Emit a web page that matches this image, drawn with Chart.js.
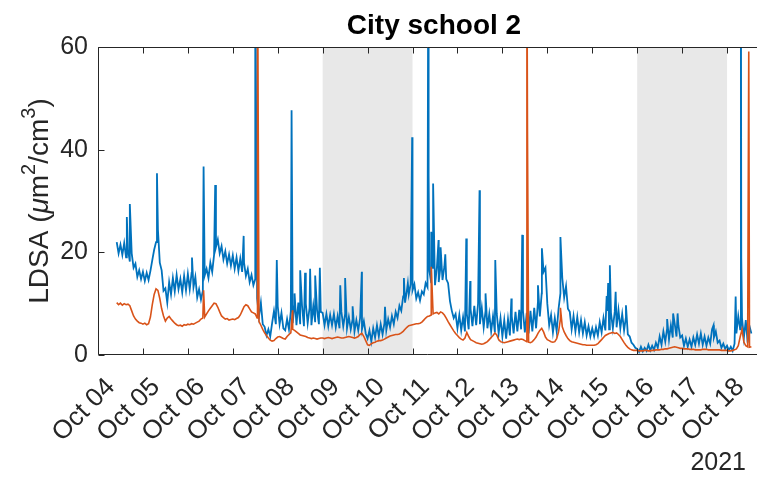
<!DOCTYPE html>
<html>
<head>
<meta charset="utf-8">
<script src="https://cdn.jsdelivr.net/npm/chart.js@4/dist/chart.umd.min.js"></script>
<style>
  html, body { margin: 0; padding: 0; background: #fff; }
  canvas { display: block; }
</style>
</head>
<body>
<canvas id="chart" width="757" height="477"></canvas>
<script>
// hours are counted from Oct 04 00:00
const dayLabels = ['Oct 04', 'Oct 05', 'Oct 06', 'Oct 07', 'Oct 08', 'Oct 09', 'Oct 10', 'Oct 11',
    'Oct 12', 'Oct 13', 'Oct 14', 'Oct 15', 'Oct 16', 'Oct 17', 'Oct 18'];
const yTicks = [0, 20, 40, 60];
const weekendHours = [[120, 168], [288, 336]];
const firstHour = 10;   // first sample, Oct 04 10:00
const lastHour = 352;   // right end of the axis

// hourly LDSA, series 1 (blue)
const blueHourly = [
    22.0, 19.8, 21.5, 19.5, 21.8, 19.0, 20.5, 18.2, 19.8, 17.0, 17.8, 15.2, 16.5, 14.8,
    16.2, 14.4, 16.0, 14.6, 16.4, 18.5, 20.5, 22.0, 24.5, 18.0, 16.5, 12.5, 13.0, 10.2, 14.2, 11.8, 15.0, 12.4, 15.6, 12.8, 14.8, 12.2, 15.4, 12.6,
    15.8, 12.8, 16.0, 13.2, 15.2, 11.2, 12.8, 10.8, 12.5, 15.5, 16.8, 15.0, 18.0, 16.2, 19.5, 21.0, 22.5, 19.8, 21.2, 18.6, 20.2, 17.8, 19.6, 17.4,
    19.4, 16.8, 19.0, 16.4, 18.8, 16.2, 18.0, 15.4, 16.8, 14.2, 15.6, 13.6, 14.8, 11.0, 7.5, 10.2, 6.0, 5.5, 3.8, 5.0, 3.6, 6.2, 8.6, 6.0,
    9.5, 6.0, 8.2, 5.2, 4.8, 7.0, 5.0, 8.5, 6.2, 9.8, 5.8, 10.2, 6.0, 9.5, 5.6, 10.0, 6.2, 9.2, 5.8, 9.6, 6.4, 8.8, 6.0, 8.4,
    8.2, 5.8, 8.0, 5.6, 7.8, 5.8, 8.0, 5.4, 7.6, 5.2, 8.4, 5.6, 8.0, 5.2, 7.4, 5.0, 7.0, 4.6, 6.8, 4.8, 7.2, 5.0, 6.6, 4.2,
    3.2, 4.8, 2.6, 5.2, 3.4, 5.8, 3.6, 6.0, 4.0, 6.2, 4.8, 7.0, 5.4, 7.6, 6.0, 8.4, 7.2, 9.6, 8.6, 11.4, 10.2, 12.6, 11.8, 13.8,
    12.6, 13.8, 11.0, 12.2, 10.6, 12.4, 11.8, 14.0, 13.2, 16.4, 14.0, 16.8, 13.6, 17.0, 14.2, 17.4, 14.6, 17.2, 14.8, 14.0, 10.5, 8.6, 7.2, 8.0,
    5.2, 7.8, 4.8, 7.4, 4.6, 8.0, 5.0, 9.0, 5.6, 9.6, 5.8, 10.0, 6.0, 9.2, 5.4, 8.6, 5.2, 8.0, 4.6, 7.6, 4.4, 8.0, 4.2, 7.2,
    3.6, 6.8, 3.2, 7.0, 3.8, 7.6, 4.2, 8.4, 4.6, 8.8, 5.0, 8.6, 4.4, 8.2, 4.2, 8.6, 4.6, 9.2, 5.2, 10.4, 7.5, 12.0, 16.2, 17.0,
    10.0, 5.8, 7.8, 4.4, 7.2, 4.6, 9.0, 12.0, 15.0, 11.2, 13.4, 9.0, 8.4, 5.0, 7.6, 4.6, 7.4, 4.4, 6.8, 4.2, 6.4, 3.8, 5.6, 3.6,
    5.2, 3.6, 5.4, 3.8, 6.4, 4.4, 7.2, 4.8, 8.6, 5.0, 8.2, 5.2, 8.4, 5.4, 8.8, 5.2, 8.0, 4.8, 7.4, 4.0, 3.6, 2.4, 2.0, 1.4,
    1.2, 0.6, 1.6, 0.7, 1.4, 0.8, 2.0, 0.9, 1.8, 1.0, 2.4, 1.4, 3.6, 2.0, 4.6, 2.6, 5.2, 3.0, 5.8, 3.4, 6.2, 3.6, 5.8, 3.4,
    3.8, 1.8, 3.2, 1.6, 3.0, 1.6, 3.4, 2.0, 4.0, 2.2, 4.2, 2.0, 3.6, 1.8, 3.4, 2.2, 5.0, 3.4, 4.6, 2.4, 2.8, 1.4, 2.2, 1.2,
    1.8, 0.9, 1.6, 0.8, 2.2, 4.2, 7.6, 5.0, 7.2, 3.4, 6.8, 2.4, 5.6, 4.2
];

// hourly LDSA, series 2 (orange)
const orangeHourly = [
    10.2, 9.8, 10.1, 9.7, 10.0, 9.8, 9.9, 9.6, 8.6, 7.6, 7.0, 6.6, 6.3, 6.2,
    6.0, 6.2, 5.9, 6.1, 7.4, 9.8, 11.8, 12.9, 12.6, 11.0, 9.0, 7.6, 6.6, 7.2, 7.5, 7.0, 6.6, 6.2, 5.9, 5.7, 5.8, 5.6, 5.9, 5.8,
    6.0, 5.9, 6.1, 6.0, 6.2, 6.4, 6.6, 7.0, 7.2, 7.4, 8.0, 8.6, 9.1, 9.6, 10.1, 10.0, 9.3, 8.4, 7.6, 7.3, 7.0, 7.1, 6.8, 6.9,
    7.0, 6.9, 7.1, 7.3, 7.8, 8.6, 9.4, 9.8, 9.6, 9.0, 8.4, 8.2, 8.0, 7.2, 6.5, 5.8, 5.0, 4.3, 3.8, 3.3, 2.9, 2.7, 2.8, 3.2,
    3.5, 3.6, 3.4, 3.2, 3.1, 3.6, 4.0, 4.3, 5.0, 4.8, 4.5, 4.2, 3.9, 3.8, 3.7, 3.6, 3.4, 3.3, 3.2, 3.3, 3.2, 3.1, 3.2, 3.3,
    3.3, 3.2, 3.3, 3.4, 3.3, 3.2, 3.3, 3.4, 3.5, 3.4, 3.3, 3.3, 3.4, 3.5, 3.6, 3.5, 3.4, 3.3, 3.4, 3.6, 4.0, 4.2, 3.6, 2.8,
    2.0, 1.9, 2.2, 2.4, 2.5, 2.7, 2.8, 2.8, 2.9, 3.1, 3.3, 3.5, 3.7, 3.8, 3.9, 4.0, 4.0, 4.1, 4.3, 4.6, 5.0, 5.4, 5.7, 5.8,
    5.9, 6.0, 6.1, 6.1, 6.2, 6.4, 6.8, 7.2, 7.5, 7.6, 7.8, 8.0, 8.2, 8.3, 8.0, 8.4, 8.2, 7.8, 7.2, 6.5, 5.9, 5.3, 4.7, 4.2,
    3.8, 3.4, 3.1, 2.9, 3.3, 4.4, 3.6, 3.0, 2.8, 2.6, 2.4, 2.3, 2.2, 2.1, 2.2, 2.4, 2.6, 3.0, 3.4, 3.8, 4.3, 3.9, 3.0, 2.6,
    2.5, 2.4, 2.5, 2.6, 2.7, 2.8, 2.9, 3.0, 3.1, 3.0, 3.1, 3.0, 2.8, 2.6, 2.5, 2.4, 2.6, 3.0, 3.5, 4.2, 4.8, 5.2, 4.5, 3.5,
    3.0, 2.8, 2.6, 2.5, 2.6, 3.2, 4.5, 7.0, 5.5, 4.5, 3.8, 3.2, 2.8, 2.6, 2.5, 2.4, 2.3, 2.2, 2.1, 2.0, 2.0, 1.9, 1.9, 1.9,
    1.9, 1.9, 2.0, 2.2, 2.6, 3.0, 3.4, 3.8, 4.0, 4.2, 4.3, 4.4, 4.2, 4.3, 4.0, 3.6, 3.0, 2.4, 1.9, 1.5, 1.2, 1.0, 0.9, 0.9,
    0.9, 0.8, 0.8, 0.8, 0.9, 0.9, 0.8, 0.8, 0.9, 0.9, 1.0, 1.0, 1.0, 1.1, 1.1, 1.2, 1.2, 1.3, 1.4, 1.5, 1.6, 1.5, 1.4, 1.3,
    1.3, 1.2, 1.2, 1.2, 1.1, 1.1, 1.1, 1.0, 1.0, 1.0, 1.0, 1.1, 1.1, 1.1, 1.0, 1.0, 1.0, 1.0, 1.0, 1.0, 1.0, 0.9, 0.9, 0.9,
    0.9, 0.8, 0.8, 0.9, 1.0, 1.2, 1.8, 3.5, 5.0, 2.5, 1.8, 1.6, 1.5, 1.6
];

// short peaks between the hourly samples: [hour, value]
const blueSpikes = [
    [15.4, 26.9], [17.0, 29.4], [31.5, 35.4], [50.2, 19.0], [56.4, 36.7], [62.6, 33.1],
    [77.8, 23.2], [84.0, 80], [84.5, 44.5], [95.5, 18.5],
    [103.4, 47.7], [105.0, 12.0], [108.0, 16.5], [110.6, 16.0], [113.3, 16.8], [116.0, 15.5], [118.5, 17.0],
    [129.4, 13.6], [132.0, 15.0], [136.0, 9.5], [140.9, 16.2],
    [153.3, 9.4], [163.4, 15.0], [165.5, 14.0], [167.8, 42.4],
    [176.4, 80], [176.6, 35.0], [178.0, 24.0], [179.0, 33.4], [181.9, 22.4], [183.0, 21.0], [185.5, 19.6],
    [196.7, 22.7], [198.8, 14.4], [203.8, 32.1], [207.0, 12.0], [212.2, 18.5],
    [220.8, 11.0], [226.6, 23.4], [235.0, 13.6], [237.1, 20.8],
    [247.0, 23.0],
    [271.7, 11.5], [272.5, 14.0], [273.4, 17.5], [276.5, 12.3], [282.0, 9.7],
    [304.0, 7.0], [307.2, 8.1], [309.6, 8.1],
    [328.8, 5.8],
    [340.6, 11.4], [343.4, 80], [343.6, 19.0]
];
const orangeSpikes = [
    [56.4, 12.6], [85.2, 80], [103.9, 8.7], [178.0, 17.2],
    [229.1, 80], [229.4, 43.8], [247.0, 9.2], [347.6, 59.1]
];

function buildSeries(hourly, spikes) {
    const points = hourly.map((v, i) => ({ x: firstHour + i, y: v }));
    spikes.forEach(([h, v]) => points.push({ x: h, y: v }));
    return points.sort((a, b) => a.x - b.x);
}

const FONT = "'Liberation Sans', Arial, Helvetica, sans-serif";
const INK = '#262626';

// weekend shading, inward ticks, box, title, y label and year
const decorPlugin = {
    id: 'decor',
    beforeDatasetsDraw(chart) {
        const { ctx, chartArea: a, scales: { x } } = chart;
        ctx.save();
        ctx.fillStyle = '#e8e8e8';
        weekendHours.forEach(([s, e]) => {
            const x0 = x.getPixelForValue(s);
            const x1 = x.getPixelForValue(e);
            ctx.fillRect(x0, a.top, x1 - x0, a.bottom - a.top);
        });
        ctx.restore();
    },
    afterDraw(chart) {
        const { ctx, chartArea: a, scales: { x, y } } = chart;
        const L = Math.round(a.left) + 0.5;
        const T = Math.round(a.top) + 0.5;
        const B = Math.round(a.bottom) - 0.5;
        ctx.save();
        ctx.strokeStyle = INK;
        ctx.lineWidth = 1;
        ctx.beginPath();
        ctx.moveTo(a.right, T); ctx.lineTo(L, T); ctx.lineTo(L, B); ctx.lineTo(a.right, B);
        dayLabels.forEach((_, i) => {
            const px = Math.round(x.getPixelForValue(i * 24)) + 0.5;
            ctx.moveTo(px, B); ctx.lineTo(px, B - 6);
            ctx.moveTo(px, T); ctx.lineTo(px, T + 6);
        });
        yTicks.forEach(v => {
            const py = Math.round(y.getPixelForValue(v)) + 0.5;
            ctx.moveTo(L, py); ctx.lineTo(L + 6, py);
        });
        ctx.stroke();

        // title
        ctx.fillStyle = '#000';
        ctx.font = `bold 28px ${FONT}`;
        ctx.textAlign = 'center';
        ctx.textBaseline = 'alphabetic';
        ctx.fillText('City school 2', 434, 34);

        // year under the axis
        ctx.fillStyle = INK;
        ctx.font = `25px ${FONT}`;
        ctx.textAlign = 'right';
        ctx.fillText('2021', 746, 470);

        // y label with superscripts
        const parts = [
            { t: 'LDSA (', f: `28px ${FONT}`, dy: 0 },
            { t: 'μ', f: `italic 28px ${FONT}`, dy: 0 },
            { t: 'm', f: `28px ${FONT}`, dy: 0 },
            { t: '2', f: `20px ${FONT}`, dy: -13 },
            { t: '/cm', f: `28px ${FONT}`, dy: 0 },
            { t: '3', f: `20px ${FONT}`, dy: -13 },
            { t: ')', f: `28px ${FONT}`, dy: 0 }
        ];
        let total = 0;
        parts.forEach(p => { ctx.font = p.f; p.w = ctx.measureText(p.t).width; total += p.w; });
        ctx.translate(48, (a.top + a.bottom) / 2);
        ctx.rotate(-Math.PI / 2);
        ctx.textAlign = 'left';
        let cx = -total / 2;
        parts.forEach(p => {
            ctx.font = p.f;
            ctx.fillText(p.t, cx, p.dy);
            cx += p.w;
        });
        ctx.restore();
    }
};

new Chart(document.getElementById('chart'), {
    type: 'line',
    data: {
        datasets: [
            {
                label: 'series 1',
                data: buildSeries(blueHourly, blueSpikes),
                borderColor: '#0072BD',
                borderWidth: 1.8,
                pointRadius: 0,
                tension: 0,
                order: 2
            },
            {
                label: 'series 2',
                data: buildSeries(orangeHourly, orangeSpikes),
                borderColor: '#D95319',
                borderWidth: 1.6,
                pointRadius: 0,
                tension: 0,
                order: 1
            }
        ]
    },
    options: {
        responsive: false,
        devicePixelRatio: 1,
        animation: false,
        layout: { padding: { top: 47, right: 0, bottom: 0, left: 0 } },
        plugins: {
            legend: { display: false },
            tooltip: { enabled: false },
            title: { display: false }
        },
        scales: {
            x: {
                type: 'linear',
                min: 0,
                max: lastHour,
                grid: { display: false, drawTicks: false },
                border: { display: false },
                afterBuildTicks: scale => {
                    scale.ticks = dayLabels.map((_, i) => ({ value: i * 24 }));
                },
                afterFit: scale => {
                    scale.height = 122;
                    scale.paddingLeft = 0;
                    scale.paddingRight = 0;
                },
                ticks: {
                    autoSkip: false,
                    maxRotation: 45,
                    minRotation: 45,
                    padding: 17,
                    labelOffset: 13,
                    color: INK,
                    font: { family: FONT, size: 26 },
                    callback: value => dayLabels[Math.round(value / 24)]
                }
            },
            y: {
                min: 0,
                max: 60,
                grid: { display: false, drawTicks: false },
                border: { display: false },
                afterBuildTicks: scale => {
                    scale.ticks = yTicks.map(v => ({ value: v }));
                },
                afterFit: scale => { scale.width = 98; },
                ticks: {
                    padding: 10,
                    color: INK,
                    font: { family: FONT, size: 25 }
                }
            }
        }
    },
    plugins: [decorPlugin]
});
</script>
</body>
</html>
